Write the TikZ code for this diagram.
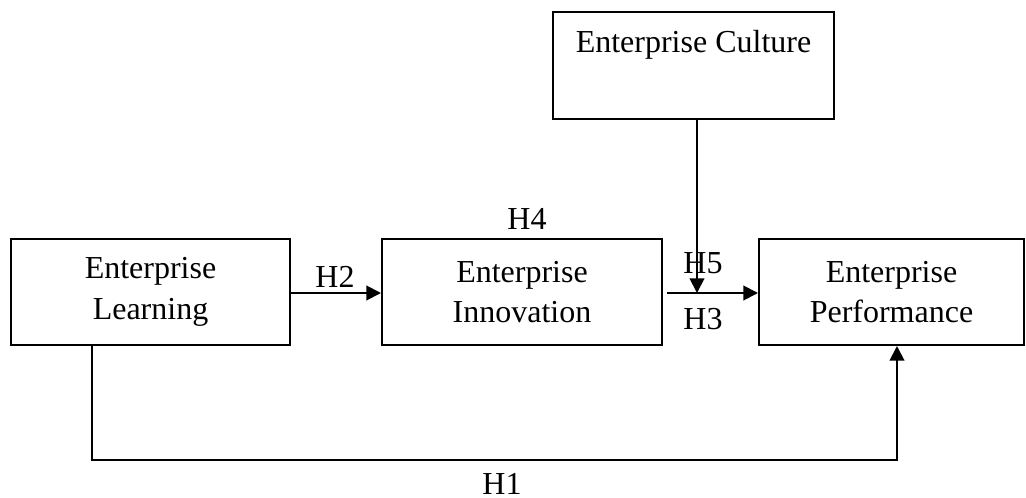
\documentclass[tikz,border=0pt]{standalone}
\usepackage{fontspec}
\setmainfont{Liberation Serif}
\usetikzlibrary{arrows.meta}
\begin{document}
\begin{tikzpicture}[x=0.75pt,y=-0.75pt,
  box/.style={draw,line width=1.5pt,inner sep=0pt,align=center,font=\fontsize{24}{30.5}\selectfont},
  lbl/.style={inner sep=0pt,font=\fontsize{24}{30}\selectfont},
  conn/.style={line width=1.5pt},
  arr/.style={conn,-{Triangle[length=11pt,width=11pt]}}]
\useasboundingbox (0,0) rectangle (1026,497);
\node[box,minimum width=279*0.75pt,minimum height=106*0.75pt] (learn) at (150.5,292) {Enterprise\\Learning};
\node[box,minimum width=280*0.75pt,minimum height=106*0.75pt] (innov) at (522,292) {Enterprise\\Innovation};
\node[box,minimum width=265*0.75pt,minimum height=106*0.75pt] (perf) at (891.5,292) {Enterprise\\Performance};
\node[box,minimum width=281*0.75pt,minimum height=107*0.75pt] (cult) at (693.5,65.5) {};
\node[lbl] (culttext) at (693.5,45) {Enterprise Culture};
\coordinate (h3start) at (667,293);
\coordinate (cultbot) at (697,119);
\coordinate (modtip) at (697,293);
\coordinate (c1) at (92,460);
\coordinate (c2) at (897,460);
\draw[arr] (learn.east |- 0,293) -- (innov.west |- 0,293);
\draw[arr] (h3start) -- (perf.west |- h3start);
\draw[arr] (cultbot) -- (modtip);
\draw[arr] (learn.south -| c1) -- (c1) -- (c2) -- (perf.south -| c2);
\node[lbl] (h2) at (335,277) {H2};
\node[lbl] (h4) at (527,219) {H4};
\node[lbl] (h5) at (703,263) {H5};
\node[lbl] (h3) at (703,319) {H3};
\node[lbl,anchor=base] (h1) at (502,494) {H1};
\end{tikzpicture}
\end{document}
